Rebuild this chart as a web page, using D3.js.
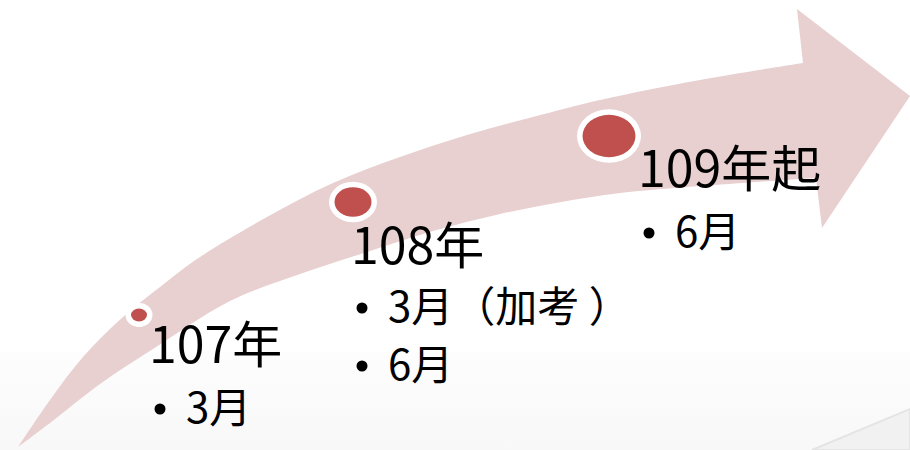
<!DOCTYPE html>
<meta charset="utf-8">
<script src="https://d3js.org/d3.v7.min.js"></script>
<style>
  body { margin: 0; background: #fff; }
  text { font-family: "Noto Sans CJK TC", "Noto Sans", sans-serif; fill: #000; }
</style>
<div id="chart"></div>
<script>

// milestones on the timeline
const years = [107, 108, 109];
const titles = ["107年", "108年", "109年起"];
const items = [["3月"], ["3月（加考 ）", "6月"], ["6月"]];

const width = 910, height = 450;

const svg = d3.select("#chart").append("svg")
  .attr("width", width)
  .attr("height", height);

// light grey floor at the bottom of the slide
const defs = svg.append("defs");
const grad = defs.append("linearGradient")
  .attr("id", "floor").attr("x1", 0).attr("y1", 0).attr("x2", 0).attr("y2", 1);
grad.append("stop").attr("offset", "0%").attr("stop-color", "#fdfdfd");
grad.append("stop").attr("offset", "100%").attr("stop-color", "#f8f8f8");

svg.append("rect")
  .attr("x", 0).attr("y", 352).attr("width", width).attr("height", height - 352)
  .attr("fill", "url(#floor)");

// faint roof in the corner
svg.append("path")
  .attr("d", "M812,450 L910,409 L910,450 Z")
  .attr("fill", "#f1f1f1")
  .attr("stroke", "#e4e4e4")
  .attr("stroke-width", 2);

// ---------------------------//
//       CURVED ARROW         //
// ---------------------------//
const upper = [[18,447],[50,400],[83,357],[123,317],[160,287],[200,257],[267,217],[333,183],
  [400,157],[467,135],[533,117],[600,100],[700,80],[803,63]];
const lower = [[816,178],[700,186],[620,193],[567,201],[500,214],[433,231],[367,252],[300,274],
  [230,301],[153,349],[100,384],[50,423],[18,447]];
const head = [[797,9],[910,96],[822,228]];

const edge = d3.line().curve(d3.curveCatmullRom.alpha(0.5));
const arrowPath = edge(upper)
  + head.map(p => "L" + p[0] + "," + p[1]).join("")
  + "L" + edge(lower).slice(1) + "Z";

svg.append("path")
  .attr("d", arrowPath)
  .attr("fill", "#e8cfd0");

// ---------------------------//
//       SCALES               //
// ---------------------------//
const x = d3.scaleLinear().domain(years).range([139, 353, 609]);
const y = d3.scaleLinear().domain(years).range([315, 202, 136]);
const r = d3.scaleLinear().domain(years).range([8, 18.5, 26.5]);
const labelX = d3.scaleLinear().domain(years).range([149, 351, 638]);
const labelY = d3.scaleLinear().domain(years).range([363, 264, 187]);
const rowGap = 58;

// dots
const dots = svg.append("g").selectAll("g")
  .data(years)
  .join("g");

dots.append("ellipse")
  .attr("cx", d => x(d)).attr("cy", d => y(d))
  .attr("rx", d => r(d) + 5.5).attr("ry", d => r(d) * 0.8 + 5.5)
  .attr("fill", "#fff");

dots.append("ellipse")
  .attr("cx", d => x(d)).attr("cy", d => y(d))
  .attr("rx", d => r(d)).attr("ry", d => r(d) * 0.8)
  .attr("fill", "#c0504d");

// labels
const labels = svg.append("g").selectAll("g")
  .data(years)
  .join("g");

labels.append("text")
  .attr("x", d => labelX(d))
  .attr("y", d => labelY(d))
  .style("font-size", "50px")
  .text((d, i) => titles[i]);

labels.each(function(d, i) {
  const g = d3.select(this);
  items[i].forEach((t, j) => {
    const base = labelY(d) + 60 + j * rowGap - (i === 1 ? 2 : 0);
    g.append("circle")
      .attr("cx", labelX(d) + 11)
      .attr("cy", base - 14)
      .attr("r", 5.5)
      .attr("fill", "#000");
    g.append("text")
      .attr("x", labelX(d) + 37)
      .attr("y", base)
      .style("font-size", "42px")
      .text(t);
  });
});

</script>
